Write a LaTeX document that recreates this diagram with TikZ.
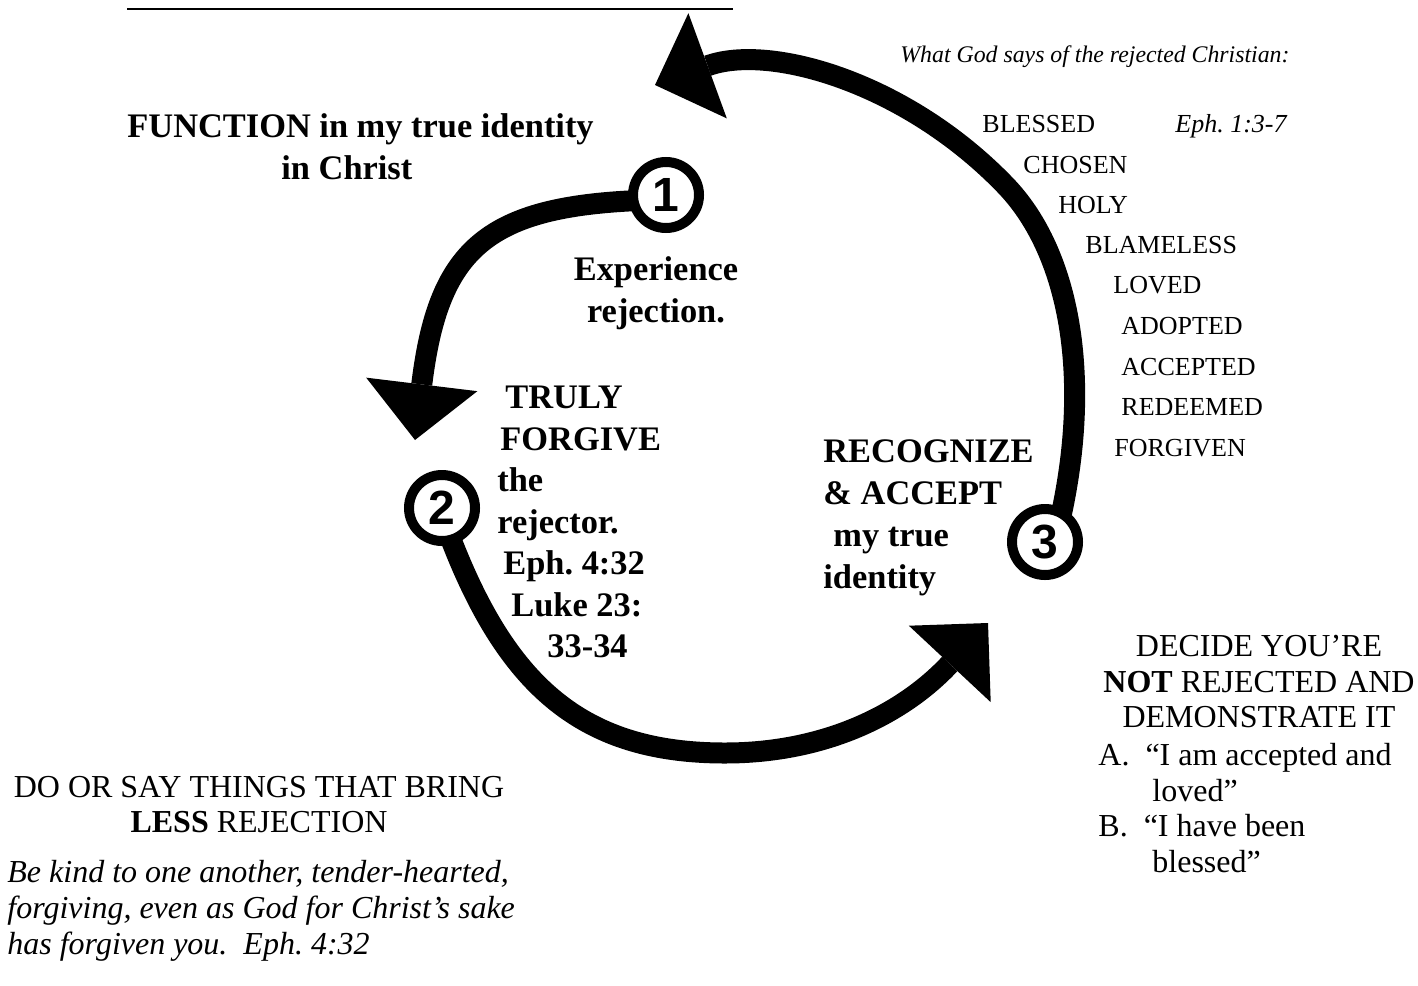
\documentclass[tikz,border=0pt]{standalone}
\usepackage{fontspec}
\setmainfont{Liberation Serif}
\newfontfamily\digitfont{Liberation Sans}
\usetikzlibrary{arrows.meta}

\begin{document}
\begin{tikzpicture}[x=0.5pt,y=-0.5pt,
    ring/.style={circle,draw,line width=5pt,minimum size=33pt,inner sep=0pt,outer sep=0pt,
                 font=\digitfont\bfseries\fontsize{24}{24}\selectfont},
    bigarrow/.style={line width=10.5pt,-{Triangle[length=28pt,width=56pt,line width=0pt 0 0]}},
    boldlbl/.style={font=\bfseries\fontsize{17.2}{21}\selectfont,inner sep=0pt},
    bodytext/.style={font=\fontsize{16}{17.75}\selectfont,inner sep=0pt},
    listword/.style={font=\fontsize{13}{15}\selectfont,inner sep=0pt,anchor=base west}]
      \useasboundingbox (0,0) rectangle (1418,985);

      \draw[line width=0.75pt] (127,9) -- (733,9);

      % the three steps
      \node[ring] (c1) at (666,195) {1};
      \node[ring] (c2) at (442,508) {2};
      \node[ring] (c3) at (1045,542) {3};

      \coordinate (tip1) at (415,440);
      \coordinate (tip2) at (988,623);
      \coordinate (tip3) at (655,85);

      \draw[bigarrow] (c1.190) .. controls (485,208) and (438,251) .. (tip1);
      \draw[bigarrow] (c2.-74) .. controls (509,689) and (585,753) .. (725,753)
                               .. controls (825,753) and (903,714) .. (tip2);
      \draw[bigarrow] (c3.60) .. controls (1091,376) and (1070,254) .. (1007,187)
                              .. controls (908,83) and (770,43) .. (tip3);

      % labels round the cycle
      \node[boldlbl,align=left,anchor=north west] (function) at (127,113)
           {FUNCTION in my true identity\\\hspace*{77pt}in Christ};
      \node[boldlbl,align=center,anchor=north] (experience) at (656,256)
           {Experience\\rejection.};
      \node[boldlbl,align=left,anchor=north west,font=\bfseries\fontsize{17.2}{20.75}\selectfont] (forgive) at (497,386)
           {\hspace*{4pt}TRULY\\\hspace*{1.5pt}FORGIVE\\the\\rejector.\\\hspace*{3pt}Eph.\ 4:32\\\hspace*{7pt}Luke 23:\\\hspace*{25pt}33-34};
      \node[boldlbl,align=left,anchor=north west] (recognize) at (823,439)
           {RECOGNIZE\\\&~ACCEPT\\\hspace*{5pt}my true\\identity};

      % what God says
      \node[inner sep=0pt,anchor=base west,font=\itshape\fontsize{11.9}{14}\selectfont] (says) at (900,62)
           {What God says of the rejected Christian:};
      \foreach \x/\y/\word in {982/132/BLESSED, 1023/173/CHOSEN, 1058/213/HOLY,
                               1085/253/BLAMELESS, 1113/293/LOVED, 1121/334/ADOPTED,
                               1121/375/ACCEPTED, 1121/415/REDEEMED, 1114/456/FORGIVEN}
      {\node[listword] (w\word) at (\x,\y) {\word};
      };
      \node[listword,font=\itshape\fontsize{13}{15}\selectfont] (eph) at (1175,132) {Eph.\ 1:3-7};

      % decide / do
      \node[bodytext,align=center,anchor=north] (decide) at (1259,635)
           {DECIDE YOU’RE\\\textbf{NOT} REJECTED AND\\DEMONSTRATE IT};
      \node[bodytext,align=left,anchor=north west] (say) at (1098,743)
           {A.\ \ “I am accepted and\\\hspace*{27pt}loved”\\B.\ \ “I have been\\\hspace*{27pt}blessed”};
      \node[bodytext,align=center,anchor=north,font=\fontsize{16}{17.5}\selectfont] (less) at (259,776)
           {DO OR SAY THINGS THAT BRING\\\textbf{LESS} REJECTION};
      \node[bodytext,align=left,anchor=north west,font=\itshape\fontsize{16}{18}\selectfont] (verse) at (7,860)
           {Be kind to one another, tender-hearted,\\forgiving, even as God for Christ’s sake\\has forgiven you.\ \ Eph.\ 4:32};
    \end{tikzpicture}
\end{document}
